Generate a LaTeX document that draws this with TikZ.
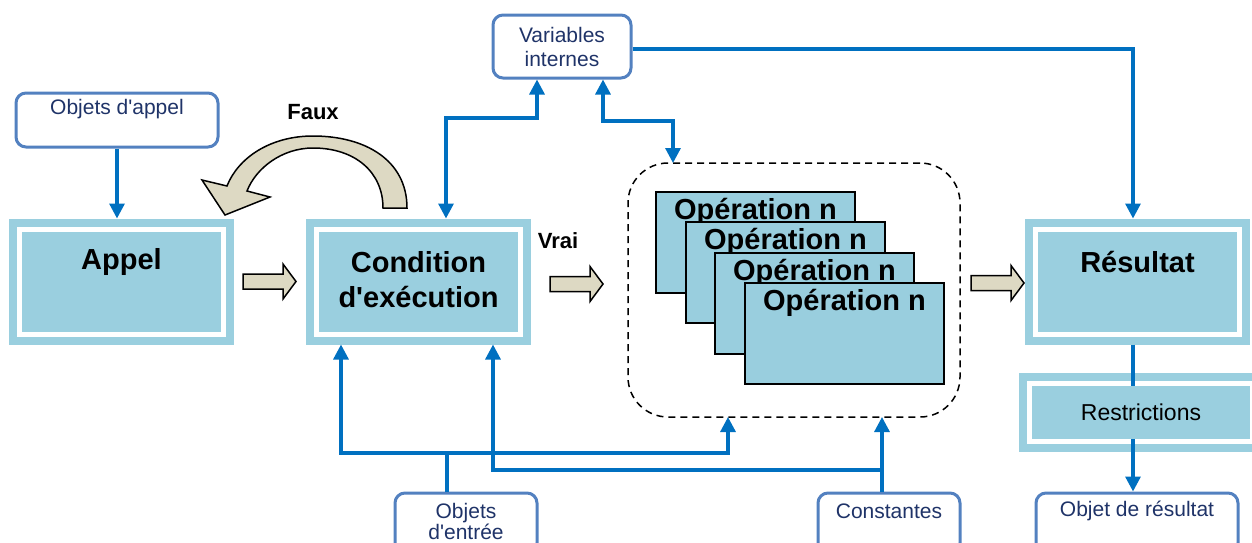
\documentclass[tikz,border=0pt]{standalone}
\usepackage{fontspec}
\setmainfont{Liberation Sans}
\usetikzlibrary{arrows.meta,calc}
\definecolor{lb}{HTML}{9ACFDF}
\definecolor{opfill}{HTML}{99CEDE}
\definecolor{connblue}{HTML}{0070C0}
\definecolor{boxblue}{HTML}{5381C0}
\definecolor{navy}{HTML}{1F3368}
\definecolor{beige}{HTML}{DDD9C3}
\newcommand{\apos}{\textquotesingle}
\tikzset{
  bigbox/.style={rectangle, fill=lb, draw=white, line width=5pt, inner sep=0pt, outer sep=10.5pt,
    minimum width=204pt, minimum height=105pt, preaction={draw=lb, line width=21pt}},
  bigtxt/.style={font=\fontsize{29}{35}\selectfont\bfseries, align=center, inner sep=0pt},
  opbox/.style={rectangle, draw=black, line width=2pt, fill=opfill, minimum width=199pt, minimum height=101pt, inner sep=0pt},
  optxt/.style={font=\fontsize{29}{32}\selectfont\bfseries, inner sep=0pt},
  smallbox/.style={rectangle, draw=boxblue, line width=3pt, rounded corners=10pt, fill=white, inner sep=0pt},
  smalltxt/.style={font=\fontsize{21}{21}\selectfont, text=navy, align=center, inner sep=0pt},
  conn/.style={draw=connblue, line width=3.2pt, -{Triangle[length=15pt,width=15pt]}},
  conntwo/.style={draw=connblue, line width=3.2pt, {Triangle[length=15pt,width=15pt]}-{Triangle[length=15pt,width=15pt]}},
  labtxt/.style={font=\fontsize{22}{22}\selectfont\bfseries, inner sep=0pt},
  barrow/.pic={\draw[fill=beige, draw=black, line width=1.5pt, line join=miter]
     (0,-7.5) -- (40,-7.5) -- (40,-17.5) -- (53,0) -- (40,17.5) -- (40,7.5) -- (0,7.5) -- cycle;}
}
\begin{document}
\begin{tikzpicture}[x=1pt,y=-1pt]
\useasboundingbox (0,0) rectangle (1252,542);

% big boxes
\node[bigbox] (appel) at (121.5,281.5) {};
\node[bigbox] (cond) at (418.5,281.5) {};
\node[bigbox] (res) at (1137.5,281.5) {};
\node[bigbox, minimum width=223pt, minimum height=58pt] (restr) at (1141,412) {};

\node[bigtxt] at ($(appel.center)+(0,-19.5)$) {Appel};
\node[bigtxt] at ($(cond.center)+(0,-2)$) {Condition\\d\apos exécution};
\node[bigtxt] at ($(res.center)+(0,-19.5)$) {Résultat};

% small boxes
\node[smallbox, minimum width=202pt, minimum height=54pt] (objappel) at (117,120) {};
\node[smalltxt] at ($(objappel.north)+(0,18)$) {Objets d\apos appel};
\node[smallbox, minimum width=138pt, minimum height=63pt, font=\fontsize{21}{24}\selectfont, text=navy, align=center] (varint) at (562,46.5) {Variables\\internes};
\node[smallbox, minimum width=142pt, minimum height=60pt] (objentree) at (466,523) {};
\node[smalltxt, font=\fontsize{21}{21}\selectfont] at ($(objentree.north)+(0,30)$) {Objets\\d\apos entrée};
\node[smallbox, minimum width=142pt, minimum height=60pt] (constantes) at (889,523) {};
\node[smalltxt] at ($(constantes.north)+(0,19.5)$) {Constantes};
\node[smallbox, minimum width=202pt, minimum height=60pt] (objres) at (1137,523) {};
\node[smalltxt] at ($(objres.north)+(0,19.5)$) {Objet de résultat};

% operations
\node[draw, dash pattern=on 7pt off 5pt, line width=1.5pt, rounded corners=40pt, minimum width=332pt, minimum height=254pt, inner sep=0pt, outer sep=0pt] (ops) at (794,290) {};
\node[opbox] (op1) at (755.5,242.5) {};
\node[optxt] at ($(op1.north)+(0,21)$) {Opération n};
\node[opbox] (op2) at (785.5,272.5) {};
\node[optxt] at ($(op2.north)+(0,21)$) {Opération n};
\node[opbox] (op3) at (814.5,303.5) {};
\node[optxt] at ($(op3.north)+(0,21)$) {Opération n};
\node[opbox] (op4) at (844.5,333.5) {};
\node[optxt] at ($(op4.north)+(0,21)$) {Opération n};

% block arrows
\pic at ($(appel.east)+(9,0)$) {barrow};
\pic at ($(cond.east)+(19,2.5)$) {barrow};
\pic at ($(res.west)+(-54,1.5)$) {barrow};

% Faux curved arrow
\draw[fill=beige, draw=black, line width=1.5pt, line join=miter]
  (407,208) .. controls (407,160) and (365,136) .. (313,136)
  .. controls (270,136) and (238,158) .. (227,186)
  -- (202,180) -- (225,215) -- (270,197) -- (247,191)
  .. controls (256,168) and (282,148) .. (313,148)
  .. controls (355,148) and (383,172) .. (383,208) -- cycle;
\node[labtxt] (faux) at (313,112) {Faux};
\node[labtxt] (vrai) at (558,241) {Vrai};

% connectors
\draw[conn] (objappel.south) -- (objappel.south |- appel.north);
\draw[conntwo] ([xshift=-25pt]varint.south) -- ++(0,38.5) -| ([xshift=27.5pt]cond.north);
\draw[conntwo] ([xshift=41pt]varint.south) -- ++(0,41.5) -| ([xshift=-121pt]ops.north);
\draw[conn] ([yshift=-2.5pt]varint.east) -| ([xshift=-4.5pt]res.north);
\draw[conn] ([xshift=-4.5pt]res.south) -- ([xshift=-4pt]objres.north);

\draw[conn] ([xshift=-19pt]objentree.north) -- ++(0,-38.5) -| ([xshift=-77.5pt]cond.south);
\draw[conn] ([xshift=-19pt]objentree.north) -- ++(0,-38.5) -| ([xshift=-66pt]ops.south);
\draw[conn] ([xshift=-7pt]constantes.north) -- ([xshift=88pt]ops.south);
\draw[conn] ([xshift=-7pt]constantes.north) -- ++(0,-21.5) -| ([xshift=74.5pt]cond.south);

% restrictions inner fill over the line
\fill[lb] ([xshift=13pt,yshift=-13pt]restr.north west) rectangle ([xshift=-13pt,yshift=13pt]restr.south east);
\node[font=\fontsize{23}{27}\selectfont, inner sep=0pt] at (restr.center) {Restrictions};
\end{tikzpicture}
\end{document}
